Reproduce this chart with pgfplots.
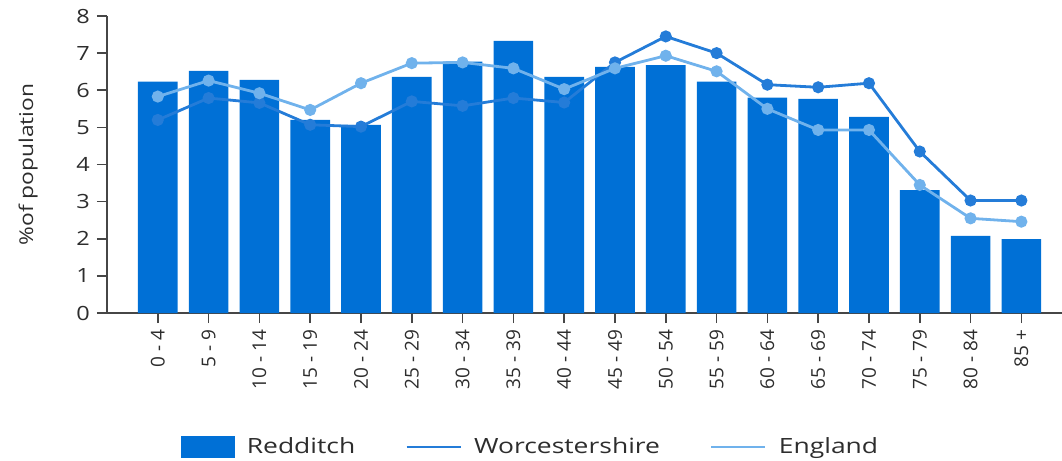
\documentclass[border=0pt]{standalone}
\usepackage{pgfplots}
\pgfplotsset{compat=1.18}
\usepackage{fontspec}
\setmainfont{Open Sans}[FakeStretch=1.2]
\newfontfamily\plainfont{Open Sans}
\newfontfamily\legfont{Open Sans}[FakeStretch=1.26]
\definecolor{barblue}{RGB}{0,112,214}
\definecolor{worc}{RGB}{36,124,216}
\definecolor{eng}{RGB}{112,178,236}
\definecolor{txt}{RGB}{45,45,45}
\definecolor{axisgray}{RGB}{70,70,70}
\pgfplotstableread{
x red worc eng
0 6.23 5.20 5.83
1 6.52 5.79 6.26
2 6.28 5.66 5.92
3 5.20 5.07 5.47
4 5.07 5.02 6.19
5 6.36 5.70 6.73
6 6.77 5.58 6.75
7 7.33 5.79 6.59
8 6.36 5.67 6.03
9 6.63 6.75 6.59
10 6.68 7.45 6.93
11 6.23 7.00 6.51
12 5.80 6.15 5.50
13 5.77 6.08 4.93
14 5.28 6.19 4.93
15 3.31 4.35 3.45
16 2.08 3.03 2.55
17 1.99 3.03 2.46
}\datatable
\begin{document}
\begin{tikzpicture}
\begin{axis}[
  scale only axis, width=477.5pt, height=148.5pt,
  xmin=-1, xmax=17.8, ymin=0, ymax=8,
  axis x line=bottom, axis y line=left,
  axis line style={-, draw=axisgray, line width=1pt},
  xtick={0,...,17},
  xticklabels={0 - 4,5 - 9,10 - 14,15 - 19,20 - 24,25 - 29,30 - 34,35 - 39,40 - 44,45 - 49,50 - 54,55 - 59,60 - 64,65 - 69,70 - 74,75 - 79,80 - 84,85 +},
  xticklabel style={rotate=90, anchor=east, font=\plainfont\fontsize{9.5}{11}\selectfont, text=txt},
  ytick={0,...,8},
  yticklabel style={font=\fontsize{9.8}{11}\selectfont, text=txt},
  /pgf/number format/assume math mode=true,
  tick align=outside, major tick length=5pt,
  tick style={axisgray, line width=0.8pt},
  ylabel={\%of population},
  ylabel style={at={(axis description cs:-0.0827,0.5)}, anchor=center, font=\fontsize{9.5}{11}\selectfont, text=txt},
  legend style={at={(rel axis cs:0.4445,-0.451)}, anchor=center, draw=none, fill=none,
    font=\legfont\fontsize{10.5}{12}\selectfont, text=txt, legend columns=3,
    /tikz/every odd column/.append style={column sep=4pt},
    /tikz/every even column/.append style={column sep=23pt}},
  legend cell align=left,
  clip=false,
]
\addplot[ybar, bar width=0.78, fill=barblue, draw=none,
  legend image code/.code={\fill[barblue] (0pt,-5.5pt) rectangle (27pt,5.5pt);}]
  table[x=x, y=red] {\datatable};
\addlegendentry{Redditch}
\addplot[worc, line width=1.4pt, mark=*, mark size=2.3pt, mark options={fill=worc, draw=worc},
  legend image code/.code={\draw[worc, line width=1.4pt] (0pt,0pt) -- (27pt,0pt);}]
  table[x=x, y=worc] {\datatable};
\addlegendentry{Worcestershire}
\addplot[eng, line width=1.4pt, mark=*, mark size=2.3pt, mark options={fill=eng, draw=eng},
  legend image code/.code={\draw[eng, line width=1.4pt] (0pt,0pt) -- (27pt,0pt);}]
  table[x=x, y=eng] {\datatable};
\addlegendentry{England}
\end{axis}
\pgfresetboundingbox
\path ([xshift=-53.5pt,yshift=-73.5pt]current axis.south west) rectangle ([yshift=8pt]current axis.north east);
\end{tikzpicture}
\end{document}
